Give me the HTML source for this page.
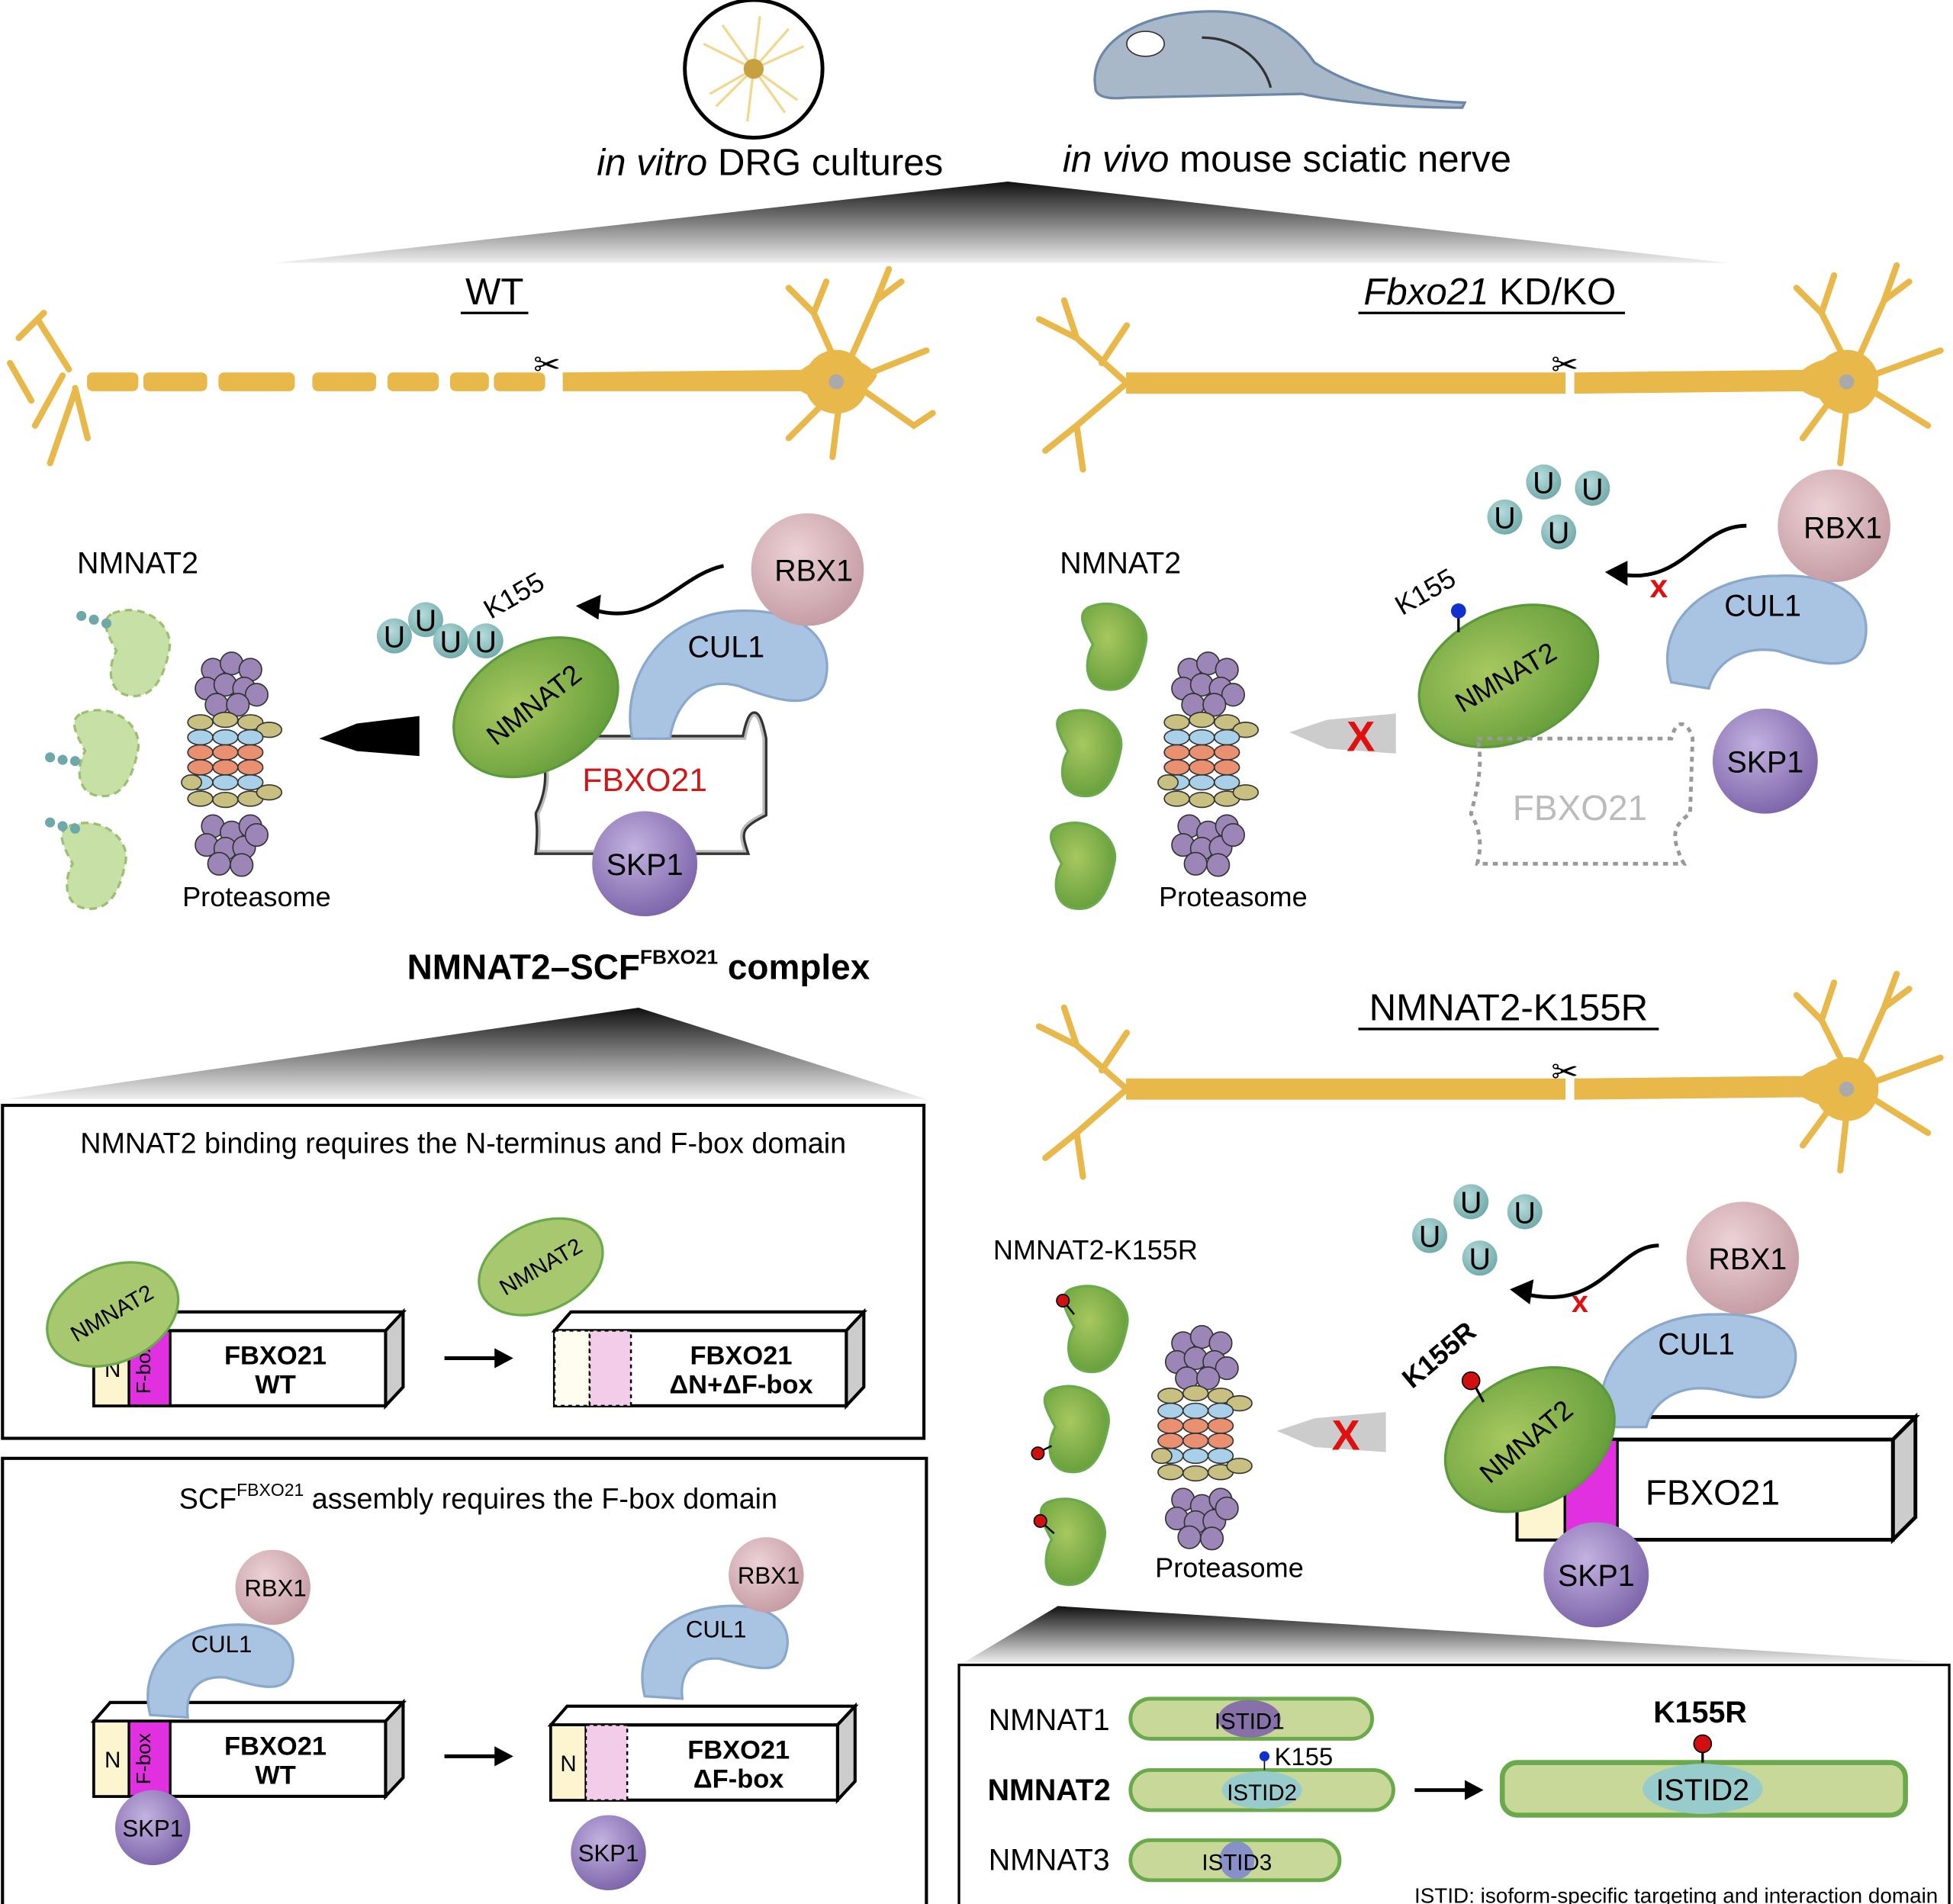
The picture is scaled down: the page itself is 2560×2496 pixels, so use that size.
<!DOCTYPE html>
<html><head><meta charset="utf-8"><style>
html,body{margin:0;padding:0;background:#fff}
svg{display:block}
text{font-family:"Liberation Sans",Arial,sans-serif}
</style></head><body>
<svg width="2560" height="2496" viewBox="0 0 1560 1521" xmlns="http://www.w3.org/2000/svg">
<defs>
<linearGradient id="tri" x1="0" y1="0" x2="0" y2="1"><stop offset="0" stop-color="#111"/><stop offset="1" stop-color="#eee"/></linearGradient>
<radialGradient id="gr" cx="0.4" cy="0.4" r="0.7"><stop offset="0" stop-color="#a8c860"/><stop offset="1" stop-color="#5f9a38"/></radialGradient>
<radialGradient id="pu" cx="0.4" cy="0.35" r="0.7"><stop offset="0" stop-color="#c4b2e0"/><stop offset="1" stop-color="#7a62a8"/></radialGradient>
<radialGradient id="pk" cx="0.4" cy="0.35" r="0.7"><stop offset="0" stop-color="#ecd2d6"/><stop offset="1" stop-color="#c49aa2"/></radialGradient>
<radialGradient id="ug" cx="0.4" cy="0.35" r="0.7"><stop offset="0" stop-color="#b7dcdc"/><stop offset="1" stop-color="#6fa8a8"/></radialGradient>
<g id="prot">
 <g fill="#9c86b8" stroke="#333" stroke-width="1">
 <circle cx="-15" cy="-70" r="9"/><circle cx="0" cy="-75" r="9"/><circle cx="15" cy="-70" r="9"/><circle cx="-20" cy="-55" r="9"/><circle cx="-5" cy="-58" r="9"/><circle cx="10" cy="-55" r="9"/><circle cx="20" cy="-50" r="9"/><circle cx="-12" cy="-42" r="9"/><circle cx="5" cy="-42" r="9"/>
 <circle cx="-15" cy="55" r="9"/><circle cx="0" cy="60" r="9"/><circle cx="15" cy="55" r="9"/><circle cx="-20" cy="70" r="9"/><circle cx="-5" cy="73" r="9"/><circle cx="10" cy="72" r="9"/><circle cx="20" cy="62" r="9"/><circle cx="-10" cy="85" r="9"/><circle cx="8" cy="86" r="9"/>
 </g>
 <g stroke="#333" stroke-width="1">
 <ellipse cx="-25" cy="-28" rx="10" ry="6" fill="#c8c080"/><ellipse cx="-5" cy="-30" rx="10" ry="6" fill="#c8c080"/><ellipse cx="15" cy="-28" rx="10" ry="6" fill="#c8c080"/><ellipse cx="30" cy="-22" rx="10" ry="6" fill="#c8c080"/>
 <ellipse cx="-25" cy="-16" rx="10" ry="6" fill="#a8d0e8"/><ellipse cx="-5" cy="-16" rx="10" ry="6" fill="#a8d0e8"/><ellipse cx="15" cy="-16" rx="10" ry="6" fill="#a8d0e8"/>
 <ellipse cx="-25" cy="-4" rx="10" ry="6" fill="#e89070"/><ellipse cx="-5" cy="-4" rx="10" ry="6" fill="#e89070"/><ellipse cx="15" cy="-4" rx="10" ry="6" fill="#e89070"/>
 <ellipse cx="-25" cy="8" rx="10" ry="6" fill="#e89070"/><ellipse cx="-5" cy="8" rx="10" ry="6" fill="#e89070"/><ellipse cx="15" cy="8" rx="10" ry="6" fill="#e89070"/>
 <ellipse cx="-25" cy="20" rx="10" ry="6" fill="#a8d0e8"/><ellipse cx="-5" cy="20" rx="10" ry="6" fill="#a8d0e8"/><ellipse cx="15" cy="20" rx="10" ry="6" fill="#a8d0e8"/>
 <ellipse cx="-25" cy="33" rx="10" ry="6" fill="#c8c080"/><ellipse cx="-5" cy="34" rx="10" ry="6" fill="#c8c080"/><ellipse cx="15" cy="33" rx="10" ry="6" fill="#c8c080"/><ellipse cx="30" cy="28" rx="10" ry="6" fill="#c8c080"/><ellipse cx="-32" cy="20" rx="8" ry="6" fill="#c8c080"/>
 </g>
</g>
<path id="bean" d="M-25,-30 C0,-40 25,-20 20,0 C15,25 5,40 -15,35 C-30,30 -28,10 -22,0 C-30,-15 -35,-25 -25,-30Z"/>
</defs>

<!-- top -->
<circle cx="602" cy="55" r="55" fill="#fff" stroke="#000" stroke-width="3"/>
<g stroke="#f0d890" stroke-width="2" fill="none">
<path d="M602,55 l-40,-20 M602,55 l-35,20 M602,55 l40,-18 M602,55 l35,25 M602,55 l5,-42 M602,55 l-5,42 M602,55 l-25,-35 M602,55 l25,35 M602,55 l28,-32 M602,55 l-30,30"/></g>
<circle cx="602" cy="55" r="8" fill="#c9a040"/>
<path d="M875,70 C870,40 900,15 950,10 C1000,5 1030,20 1050,50 C1080,70 1120,80 1170,82 L1168,86 C1120,86 1070,82 1040,75 L900,78 C880,80 875,75 875,70Z" fill="#a9b8c8" stroke="#6b88a8" stroke-width="2"/>
<ellipse cx="915" cy="35" rx="15" ry="10" fill="#fff" stroke="#333"/>
<path d="M960,30 C990,30 1010,50 1015,70" stroke="#333" stroke-width="2" fill="none"/>
<text x="615" y="140" font-size="30" text-anchor="middle"><tspan font-style="italic">in vitro</tspan> DRG cultures</text>
<text x="1028" y="137" font-size="30" text-anchor="middle"><tspan font-style="italic">in vivo</tspan> mouse sciatic nerve</text>
<polygon points="805,145 220,210 1380,210" fill="url(#tri)"/>

<!-- WT header -->
<text x="395" y="243" font-size="30" text-anchor="middle">WT</text>
<line x1="368" y1="250" x2="422" y2="250" stroke="#000" stroke-width="2"/>
<text x="1190" y="243" font-size="30" text-anchor="middle"><tspan font-style="italic">Fbxo21</tspan> KD/KO</text>
<line x1="1085" y1="250" x2="1298" y2="250" stroke="#000" stroke-width="2"/>

<!-- WT neuron -->
<g fill="#e8b84a" stroke="#e8b84a">
<path d="M450,298 L640,296 C660,280 690,285 700,300 C690,320 660,325 640,312 L450,312Z"/>
<circle cx="668" cy="305" r="25"/>
<g stroke-width="5" fill="none" stroke-linecap="round"><path d="M668,290 L650,250 L630,230 M650,250 L660,225 M680,285 L700,240 L720,225 M700,240 L710,215 M690,300 L740,280 M690,312 L730,340 L745,330 M670,325 L665,365 M660,320 L630,350"/></g>
<rect x="250" y="298" width="50" height="14" rx="4"/><rect x="310" y="298" width="40" height="14" rx="4"/><rect x="360" y="298" width="30" height="14" rx="4"/><rect x="395" y="298" width="40" height="14" rx="4"/>
<rect x="175" y="298" width="60" height="14" rx="4"/><rect x="115" y="298" width="50" height="14" rx="4"/><rect x="70" y="298" width="40" height="14" rx="4"/>
<g stroke-width="5" fill="none" stroke-linecap="round"><path d="M50,300 L28,340 M55,295 L30,255 M60,312 L40,370 M25,320 L8,290 M35,250 L15,270 M60,310 L70,350"/></g>
</g>
<text x="437" y="300" font-size="26" text-anchor="middle">✂</text>

<!-- KO neuron -->
<g fill="#e8b84a" stroke="#e8b84a">
<path d="M900,298 L1250,298 L1250,314 L900,314Z"/><path d="M1258,298 L1440,296 C1460,280 1490,285 1500,300 C1490,320 1460,325 1440,312 L1258,314Z"/>
<circle cx="1475" cy="305" r="25"/>
<g stroke-width="5" fill="none" stroke-linecap="round"><path d="M1475,290 L1455,250 L1435,230 M1455,250 L1465,220 M1485,285 L1505,240 L1525,225 M1505,240 L1515,212 M1495,300 L1550,280 M1495,312 L1540,340 M1475,325 L1470,370 M1462,320 L1440,350 M900,306 L860,270 L830,255 M860,270 L850,240 M900,306 L860,340 L835,360 M860,340 L865,375 M880,290 L900,260"/></g>
</g>
<text x="1250" y="300" font-size="26" text-anchor="middle">✂</text>
<circle cx="668" cy="305" r="6" fill="#aaa"/><circle cx="1475" cy="305" r="6" fill="#aaa"/>

<!-- WT complex -->
<text x="110" y="458" font-size="24" text-anchor="middle">NMNAT2</text>
<g fill="#b8d890" fill-opacity="0.8" stroke="#9ac070" stroke-dasharray="6 4" stroke-width="2">
<use href="#bean" transform="translate(115,520)"/><use href="#bean" transform="translate(90,600)"/><use href="#bean" transform="translate(80,690)"/></g>
<g fill="#6fa8a8"><circle cx="65" cy="492" r="4"/><circle cx="75" cy="495" r="4"/><circle cx="85" cy="498" r="4"/><circle cx="40" cy="605" r="4"/><circle cx="50" cy="607" r="4"/><circle cx="60" cy="608" r="4"/><circle cx="40" cy="657" r="4"/><circle cx="50" cy="660" r="4"/><circle cx="60" cy="662" r="4"/></g>
<use href="#prot" transform="translate(185,605)"/>
<text x="205" y="724" font-size="22" text-anchor="middle">Proteasome</text>
<polygon points="255,590 285,578 335,572 335,604 285,600" fill="#000"/>
<path d="M430,590 L595,590 C600,565 605,565 610,590 L610,650 C590,660 590,665 595,680 L430,680 C432,660 430,655 430,650 C440,630 440,610 430,590Z" fill="#fff" stroke="#333" stroke-width="6"/>
<path d="M430,590 L595,590 C600,565 605,565 610,590 L610,650 C590,660 590,665 595,680 L430,680 C432,660 430,655 430,650 C440,630 440,610 430,590Z" fill="#fff" stroke="#bbb" stroke-width="2"/>
<text x="515" y="632" font-size="26" fill="#d01818" text-anchor="middle">FBXO21</text>
<circle cx="515" cy="690" r="42" fill="url(#pu)"/>
<text x="515" y="699" font-size="24" text-anchor="middle">SKP1</text>
<path d="M505,590 C495,540 530,490 590,488 C640,486 665,510 660,540 C655,570 620,560 590,548 C560,540 540,560 535,590 Z" fill="#a9c4e2" stroke="#8aa8cc" stroke-width="2"/>
<text x="580" y="525" font-size="24" text-anchor="middle">CUL1</text>
<circle cx="645" cy="455" r="45" fill="url(#pk)"/>
<text x="650" y="464" font-size="24" text-anchor="middle">RBX1</text>
<ellipse cx="428" cy="565" rx="70" ry="50" transform="rotate(-30 428 565)" fill="url(#gr)" stroke="#5a9a3a" stroke-width="2"/>
<text x="428" y="570" font-size="22" text-anchor="middle" transform="rotate(-38 428 565)">NMNAT2</text>
<path d="M578,452 C540,460 520,505 468,485" stroke="#000" stroke-width="3" fill="none"/><polygon points="460,484 480,475 478,495" fill="#000"/>
<g font-size="24" text-anchor="middle"><circle cx="315" cy="508" r="14" fill="url(#ug)"/><text x="315" y="517">U</text><circle cx="340" cy="495" r="14" fill="url(#ug)"/><text x="340" y="504">U</text><circle cx="360" cy="512" r="14" fill="url(#ug)"/><text x="360" y="521">U</text><circle cx="388" cy="512" r="14" fill="url(#ug)"/><text x="388" y="521">U</text></g>
<text x="392" y="495" font-size="22" transform="rotate(-30 392 495)">K155</text>
<text x="510" y="782" font-size="28" font-weight="bold" text-anchor="middle">NMNAT2–SCF<tspan font-size="16" dy="-12">FBXO21</tspan><tspan dy="12"> complex</tspan></text>

<!-- KO complex -->
<text x="895" y="458" font-size="24" text-anchor="middle">NMNAT2</text>
<g fill="url(#gr)" stroke="#6aaa4a" stroke-width="2"><use href="#bean" transform="translate(895,515)"/><use href="#bean" transform="translate(875,600)"/><use href="#bean" transform="translate(870,690)"/></g>
<use href="#prot" transform="translate(965,605)"/>
<text x="985" y="724" font-size="22" text-anchor="middle">Proteasome</text>
<polygon points="1030,585 1060,575 1115,570 1115,602 1060,598" fill="#ccc"/>
<text x="1087" y="600" font-size="34" fill="#e01010" font-weight="bold" text-anchor="middle">X</text>
<ellipse cx="1205" cy="540" rx="75" ry="52" transform="rotate(-25 1205 540)" fill="url(#gr)" stroke="#5a9a3a" stroke-width="2"/>
<text x="1205" y="548" font-size="22" text-anchor="middle" transform="rotate(-30 1205 545)">NMNAT2</text>
<line x1="1165" y1="490" x2="1165" y2="505" stroke="#000" stroke-width="2"/><circle cx="1165" cy="488" r="6" fill="#1030d0"/>
<text x="1120" y="492" font-size="22" transform="rotate(-30 1120 492)">K155</text>
<path d="M1180,590 L1335,590 C1340,570 1350,580 1352,590 L1350,650 C1335,660 1335,670 1345,690 L1180,690 C1185,670 1180,660 1175,650 C1180,630 1185,610 1180,590Z" fill="none" stroke="#999" stroke-width="3" stroke-dasharray="4 4"/>
<text x="1262" y="655" font-size="28" fill="#bbb" text-anchor="middle">FBXO21</text>
<circle cx="1410" cy="608" r="42" fill="url(#pu)"/><text x="1410" y="617" font-size="24" text-anchor="middle">SKP1</text>
<path d="M1335,545 C1320,500 1360,460 1420,460 C1470,458 1495,480 1490,510 C1485,540 1450,530 1420,520 C1390,515 1370,530 1365,550 Z" fill="#a9c4e2" stroke="#8aa8cc" stroke-width="2"/>
<text x="1408" y="492" font-size="24" text-anchor="middle">CUL1</text>
<circle cx="1465" cy="420" r="45" fill="url(#pk)"/><text x="1472" y="430" font-size="24" text-anchor="middle">RBX1</text>
<path d="M1395,420 C1355,420 1345,470 1290,458" stroke="#000" stroke-width="3" fill="none"/><polygon points="1282,457 1300,448 1300,468" fill="#000"/>
<text x="1325" y="477" font-size="26" fill="#e01010" font-weight="bold" text-anchor="middle">x</text>
<g font-size="24" text-anchor="middle"><circle cx="1233" cy="385" r="14" fill="url(#ug)"/><text x="1233" y="394">U</text><circle cx="1272" cy="390" r="14" fill="url(#ug)"/><text x="1272" y="399">U</text><circle cx="1202" cy="413" r="14" fill="url(#ug)"/><text x="1202" y="422">U</text><circle cx="1245" cy="425" r="14" fill="url(#ug)"/><text x="1245" y="434">U</text></g>

<!-- K155R section -->
<text x="1205" y="815" font-size="30" text-anchor="middle">NMNAT2-K155R</text>
<line x1="1085" y1="822" x2="1325" y2="822" stroke="#000" stroke-width="2"/>
<g fill="#e8b84a" stroke="#e8b84a">
<path d="M900,862 L1250,862 L1250,878 L900,878Z"/><path d="M1258,862 L1440,860 C1460,844 1490,849 1500,864 C1490,884 1460,889 1440,876 L1258,878Z"/>
<circle cx="1475" cy="870" r="25"/>
<g stroke-width="5" fill="none" stroke-linecap="round"><path d="M1475,855 L1455,815 L1435,795 M1455,815 L1465,785 M1485,850 L1505,805 L1525,790 M1505,805 L1515,778 M1495,865 L1550,845 M1495,877 L1540,905 M1475,890 L1470,935 M1462,885 L1440,915 M900,870 L860,835 L830,820 M860,835 L850,805 M900,870 L860,905 L835,925 M860,905 L865,940 M880,855 L900,825"/></g>
</g>
<circle cx="1475" cy="870" r="6" fill="#aaa"/>
<text x="1250" y="865" font-size="26" text-anchor="middle">✂</text>

<text x="875" y="1006" font-size="22" text-anchor="middle">NMNAT2-K155R</text>
<g fill="url(#gr)" stroke="#6aaa4a" stroke-width="2"><use href="#bean" transform="translate(880,1060)"/><use href="#bean" transform="translate(865,1140)"/><use href="#bean" transform="translate(862,1230)"/></g>
<g stroke="#000" stroke-width="1.5"><line x1="850" y1="1040" x2="858" y2="1050"/><line x1="830" y1="1160" x2="840" y2="1155"/><line x1="832" y1="1216" x2="842" y2="1225"/></g>
<g fill="#d01010" stroke="#000"><circle cx="849" cy="1039" r="5"/><circle cx="829" cy="1161" r="5"/><circle cx="831" cy="1215" r="5"/></g>
<use href="#prot" transform="translate(960,1143)"/>
<text x="982" y="1260" font-size="22" text-anchor="middle">Proteasome</text>
<polygon points="1020,1143 1050,1133 1107,1128 1107,1160 1050,1156" fill="#ccc"/>
<text x="1075" y="1158" font-size="34" fill="#e01010" font-weight="bold" text-anchor="middle">X</text>
<!-- 3D box FBXO21 -->
<polygon points="1212,1150 1230,1132 1530,1132 1512,1150" fill="#fff" stroke="#000" stroke-width="3"/>
<polygon points="1512,1150 1530,1132 1530,1212 1512,1230" fill="#ccc" stroke="#000" stroke-width="3"/>
<rect x="1212" y="1150" width="300" height="80" fill="#fff" stroke="#000" stroke-width="3"/>
<rect x="1212" y="1150" width="38" height="80" fill="#fdf5d0" stroke="#000" stroke-width="2"/>
<rect x="1250" y="1150" width="42" height="80" fill="#e030e0" stroke="#000" stroke-width="2"/>
<text x="1368" y="1202" font-size="28" text-anchor="middle">FBXO21</text>
<circle cx="1275" cy="1258" r="42" fill="url(#pu)"/><text x="1275" y="1267" font-size="24" text-anchor="middle">SKP1</text>
<path d="M1280,1140 C1270,1090 1310,1050 1370,1050 C1420,1048 1445,1070 1430,1100 C1420,1125 1395,1115 1370,1110 C1340,1105 1320,1120 1315,1140 Z" fill="#a9c4e2" stroke="#8aa8cc" stroke-width="2"/>
<text x="1355" y="1082" font-size="24" text-anchor="middle">CUL1</text>
<circle cx="1392" cy="1005" r="45" fill="url(#pk)"/><text x="1396" y="1014" font-size="24" text-anchor="middle">RBX1</text>
<path d="M1325,995 C1290,995 1280,1050 1215,1033" stroke="#000" stroke-width="3" fill="none"/><polygon points="1206,1030 1225,1022 1222,1042" fill="#000"/>
<text x="1262" y="1048" font-size="24" fill="#e01010" font-weight="bold" text-anchor="middle">x</text>
<g font-size="24" text-anchor="middle"><circle cx="1175" cy="960" r="14" fill="url(#ug)"/><text x="1175" y="969">U</text><circle cx="1218" cy="968" r="14" fill="url(#ug)"/><text x="1218" y="977">U</text><circle cx="1142" cy="987" r="14" fill="url(#ug)"/><text x="1142" y="996">U</text><circle cx="1182" cy="1005" r="14" fill="url(#ug)"/><text x="1182" y="1014">U</text></g>
<ellipse cx="1222" cy="1150" rx="72" ry="52" transform="rotate(-30 1222 1150)" fill="url(#gr)" stroke="#5a9a3a" stroke-width="2"/>
<text x="1222" y="1158" font-size="22" text-anchor="middle" transform="rotate(-40 1222 1155)">NMNAT2</text>
<line x1="1177" y1="1105" x2="1185" y2="1120" stroke="#000" stroke-width="2"/><circle cx="1175" cy="1103" r="7" fill="#d01010" stroke="#000"/>
<text x="1128" y="1110" font-size="22" font-weight="bold" transform="rotate(-40 1128 1110)">K155R</text>

<polygon points="845,1283 770,1328 1555,1328" fill="url(#tri)"/>
<rect x="766" y="1330" width="791" height="197" fill="#fff" stroke="#000" stroke-width="2"/>
<text x="838" y="1382" font-size="24" text-anchor="middle">NMNAT1</text>
<text x="838" y="1438" font-size="24" font-weight="bold" text-anchor="middle">NMNAT2</text>
<text x="838" y="1494" font-size="24" text-anchor="middle">NMNAT3</text>
<rect x="903" y="1357" width="193" height="32" rx="16" fill="#c8d898" stroke="#6aaa4a" stroke-width="3"/>
<ellipse cx="998" cy="1373" rx="25" ry="15" fill="#8870a8"/><text x="998" y="1381" font-size="18" text-anchor="middle">ISTID1</text>
<rect x="903" y="1414" width="210" height="32" rx="16" fill="#c8d898" stroke="#6aaa4a" stroke-width="3"/>
<ellipse cx="1008" cy="1430" rx="32" ry="15" fill="#98cccc"/><text x="1008" y="1438" font-size="18" text-anchor="middle">ISTID2</text>
<line x1="1010" y1="1404" x2="1010" y2="1414" stroke="#000"/><circle cx="1010" cy="1403" r="4" fill="#1030d0"/>
<text x="1018" y="1410" font-size="20">K155</text>
<rect x="903" y="1470" width="167" height="32" rx="16" fill="#c8d898" stroke="#6aaa4a" stroke-width="3"/>
<ellipse cx="988" cy="1486" rx="14" ry="15" fill="#8890c8"/><text x="988" y="1494" font-size="18" text-anchor="middle">ISTID3</text>
<line x1="1130" y1="1430" x2="1175" y2="1430" stroke="#000" stroke-width="3"/><polygon points="1185,1430 1170,1422 1170,1438" fill="#000"/>
<rect x="1200" y="1408" width="322" height="42" rx="12" fill="#c8d898" stroke="#6aaa4a" stroke-width="4"/>
<ellipse cx="1360" cy="1429" rx="48" ry="20" fill="#98cccc"/><text x="1360" y="1438" font-size="24" text-anchor="middle">ISTID2</text>
<line x1="1360" y1="1398" x2="1360" y2="1408" stroke="#000" stroke-width="2"/><circle cx="1360" cy="1393" r="7" fill="#d01010" stroke="#000"/>
<text x="1358" y="1376" font-size="24" font-weight="bold" text-anchor="middle">K155R</text>
<text x="1548" y="1520" font-size="17" text-anchor="end">ISTID: isoform-specific targeting and interaction domain</text>

<!-- left boxes -->
<polygon points="510,805 5,878 740,878" fill="url(#tri)"/>
<rect x="2" y="883" width="736" height="266" fill="#fff" stroke="#000" stroke-width="2.5"/>
<text x="370" y="921" font-size="23" text-anchor="middle">NMNAT2 binding requires the N-terminus and F-box domain</text>
<g id="boxwt">
<polygon points="75,1063 88,1048 322,1048 308,1063" fill="#fff" stroke="#000" stroke-width="2.5"/>
<polygon points="308,1063 322,1048 322,1108 308,1123" fill="#ccc" stroke="#000" stroke-width="2.5"/>
<rect x="75" y="1063" width="233" height="60" fill="#fff" stroke="#000" stroke-width="2.5"/>
<rect x="75" y="1063" width="28" height="60" fill="#fdf5d0" stroke="#000" stroke-width="2"/>
<rect x="103" y="1063" width="33" height="60" fill="#e030e0" stroke="#000" stroke-width="2"/>
<text x="90" y="1100" font-size="18" text-anchor="middle">N</text>
<text x="120" y="1093" font-size="16" text-anchor="middle" transform="rotate(-90 120 1093)">F-box</text>
<text x="220" y="1090" font-size="21" font-weight="bold" text-anchor="middle">FBXO21</text>
<text x="220" y="1113" font-size="21" font-weight="bold" text-anchor="middle">WT</text>
</g>
<ellipse cx="90" cy="1050" rx="55" ry="38" transform="rotate(-25 90 1050)" fill="#a8c870" stroke="#6aaa4a" stroke-width="2"/>
<text x="90" y="1055" font-size="18" text-anchor="middle" transform="rotate(-30 90 1050)">NMNAT2</text>
<line x1="355" y1="1085" x2="400" y2="1085" stroke="#000" stroke-width="3"/><polygon points="410,1085 395,1077 395,1093" fill="#000"/>
<polygon points="443,1063 456,1048 690,1048 676,1063" fill="#fff" stroke="#000" stroke-width="2.5"/>
<polygon points="676,1063 690,1048 690,1108 676,1123" fill="#ccc" stroke="#000" stroke-width="2.5"/>
<rect x="443" y="1063" width="233" height="60" fill="#fff" stroke="#000" stroke-width="2.5"/>
<rect x="443" y="1063" width="28" height="60" fill="#fefdf0" stroke="#000" stroke-width="1.5" stroke-dasharray="3 3"/>
<rect x="471" y="1063" width="33" height="60" fill="#f2cce8" stroke="#000" stroke-width="1.5" stroke-dasharray="3 3"/>
<text x="592" y="1090" font-size="21" font-weight="bold" text-anchor="middle">FBXO21</text>
<text x="592" y="1113" font-size="21" font-weight="bold" text-anchor="middle">ΔN+ΔF-box</text>
<ellipse cx="432" cy="1012" rx="52" ry="35" transform="rotate(-25 432 1012)" fill="#a8c870" stroke="#6aaa4a" stroke-width="2"/>
<text x="432" y="1018" font-size="18" text-anchor="middle" transform="rotate(-30 432 1012)">NMNAT2</text>

<rect x="2" y="1165" width="738" height="361" fill="#fff" stroke="#000" stroke-width="2.5"/>
<text x="382" y="1205" font-size="23" text-anchor="middle">SCF<tspan font-size="14" dy="-10">FBXO21</tspan><tspan dy="10"> assembly requires the F-box domain</tspan></text>
<use href="#boxwt" transform="translate(0,312)"/>
<path d="M120,1370 C110,1330 140,1300 185,1298 C225,1296 240,1315 232,1338 C225,1355 200,1345 180,1340 C155,1338 148,1355 150,1372Z" fill="#a9c4e2" stroke="#8aa8cc" stroke-width="2"/>
<text x="177" y="1320" font-size="19" text-anchor="middle">CUL1</text>
<circle cx="218" cy="1268" r="30" fill="url(#pk)"/><text x="220" y="1275" font-size="19" text-anchor="middle">RBX1</text>
<circle cx="122" cy="1460" r="30" fill="url(#pu)"/><text x="122" y="1467" font-size="19" text-anchor="middle">SKP1</text>
<line x1="355" y1="1403" x2="400" y2="1403" stroke="#000" stroke-width="3"/><polygon points="410,1403 395,1395 395,1411" fill="#000"/>
<polygon points="440,1378 453,1363 683,1363 669,1378" fill="#fff" stroke="#000" stroke-width="2.5"/>
<polygon points="669,1378 683,1363 683,1423 669,1438" fill="#ccc" stroke="#000" stroke-width="2.5"/>
<rect x="440" y="1378" width="229" height="60" fill="#fff" stroke="#000" stroke-width="2.5"/>
<rect x="440" y="1378" width="28" height="60" fill="#fdf5d0" stroke="#000" stroke-width="2"/>
<rect x="468" y="1378" width="33" height="60" fill="#f2cce8" stroke="#000" stroke-width="1.5" stroke-dasharray="3 3"/>
<text x="454" y="1415" font-size="18" text-anchor="middle">N</text>
<text x="590" y="1405" font-size="21" font-weight="bold" text-anchor="middle">FBXO21</text>
<text x="590" y="1428" font-size="21" font-weight="bold" text-anchor="middle">ΔF-box</text>
<path d="M515,1355 C505,1315 535,1285 580,1283 C620,1281 635,1300 627,1323 C620,1340 595,1330 575,1325 C550,1323 543,1340 545,1357Z" fill="#a9c4e2" stroke="#8aa8cc" stroke-width="2"/>
<text x="572" y="1308" font-size="19" text-anchor="middle">CUL1</text>
<circle cx="612" cy="1258" r="30" fill="url(#pk)"/><text x="614" y="1265" font-size="19" text-anchor="middle">RBX1</text>
<circle cx="486" cy="1480" r="30" fill="url(#pu)"/><text x="486" y="1487" font-size="19" text-anchor="middle">SKP1</text>
</svg>
</body></html>
